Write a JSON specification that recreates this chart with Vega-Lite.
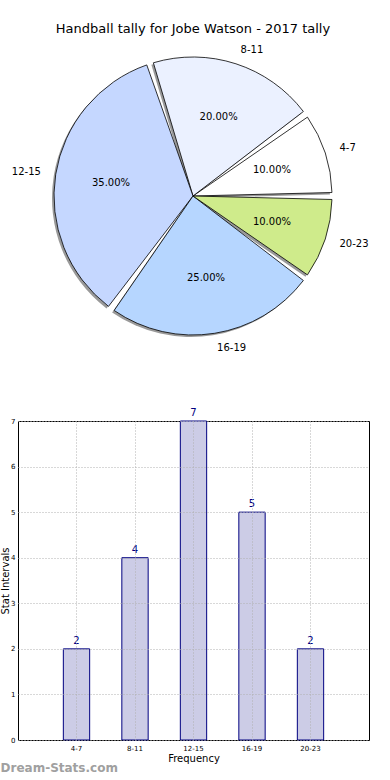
{
  "$schema": "https://vega.github.io/schema/vega-lite/v6.json",
  "padding": {"top": 23, "left": 0, "right": 0, "bottom": 0},
  "spacing": 53,
  "config": {"font": "DejaVu Sans", "view": {"stroke": null}},
  "datasets": {
    "tally": [
      {"interval": "4-7", "count": 2, "pct": "10.00%"},
      {"interval": "8-11", "count": 4, "pct": "20.00%"},
      {"interval": "12-15", "count": 7, "pct": "35.00%"},
      {"interval": "16-19", "count": 5, "pct": "25.00%"},
      {"interval": "20-23", "count": 2, "pct": "10.00%"}
    ]
  },
  "vconcat": [
    {
      "width": 350,
      "height": 312,
      "data": {"name": "tally"},
      "title": {"text": "Handball tally for Jobe Watson - 2017 tally", "fontSize": 13, "fontWeight": "normal", "offset": 4, "color": "#000"},
      "view": {"stroke": null},
      "encoding": {
        "theta": {"field": "count", "type": "quantitative", "stack": true, "scale": {"range": [-0.314159, 5.969026]}},
        "order": {"field": "interval", "type": "nominal", "sort": "descending"}
      },
      "layer": [
        {"mark": {"type": "arc", "outerRadius": 139, "padAngle": 0.05, "fill": "#808080", "opacity": 0.8, "xOffset": -2, "yOffset": 2}},
        {"mark": {"type": "arc", "outerRadius": 139, "padAngle": 0.05, "stroke": "#000", "strokeWidth": 0.8},
         "encoding": {"color": {"field": "interval", "type": "nominal", "legend": null,
           "scale": {"domain": ["4-7", "8-11", "12-15", "16-19", "20-23"], "range": ["#ffffff", "#ebf1ff", "#c5d7ff", "#b6d6ff", "#cfeb8b"]}}}},
        {"mark": {"type": "text", "radius": 83, "fontSize": 10, "color": "#000"},
         "encoding": {"text": {"field": "pct", "type": "nominal"}}},
        {"mark": {"type": "text", "radius": 154, "fontSize": 10, "align": "left", "color": "#000"},
         "encoding": {"text": {"field": "interval", "type": "nominal"},
           "opacity": {"condition": {"test": "datum.interval === '12-15'", "value": 0}, "value": 1}}},
        {"mark": {"type": "text", "radius": 154, "fontSize": 10, "align": "right", "color": "#000"},
         "encoding": {"text": {"field": "interval", "type": "nominal"},
           "opacity": {"condition": {"test": "datum.interval === '12-15'", "value": 1}, "value": 0}}}
      ]
    },
    {
      "width": 351,
      "height": 319,
      "data": {"name": "tally"},
      "view": {"stroke": "#000", "strokeWidth": 1},
      "title": {"text": "Dream-Stats.com", "orient": "bottom", "anchor": "start", "frame": "bounds", "color": "#a0a0a0", "fontSize": 12, "fontWeight": "bold", "offset": 0},
      "encoding": {
        "x": {"field": "interval", "type": "ordinal", "sort": ["4-7", "8-11", "12-15", "16-19", "20-23"],
          "scale": {"paddingInner": 0.55, "paddingOuter": 0.775},
          "axis": {"title": "Frequency", "titleFontSize": 10, "titleFontWeight": "normal", "titleColor": "#000", "titlePadding": 2,
            "labelAngle": 0, "labelFontSize": 7, "labelColor": "#000", "labelPadding": 4, "ticks": false, "domain": false,
            "grid": true, "gridColor": "#b0b0b0", "gridDash": [1, 2], "bandPosition": 0.5, "zindex": 1}},
        "y": {"field": "count", "type": "quantitative", "scale": {"domain": [0, 7]},
          "axis": {"title": "Stat Intervals", "titleFontSize": 10, "titleFontWeight": "normal", "titleColor": "#000", "titlePadding": 0,
            "values": [0, 1, 2, 3, 4, 5, 6, 7], "labelFontSize": 7, "labelColor": "#000", "labelPadding": 3, "ticks": false, "domain": false,
            "grid": true, "gridColor": "#b0b0b0", "gridDash": [1, 2], "zindex": 1}}
      },
      "layer": [
        {"mark": {"type": "bar", "fill": "#ccccE6", "stroke": "#000080", "strokeWidth": 1}},
        {"mark": {"type": "text", "dy": -8, "color": "#000080", "fontSize": 10},
         "encoding": {"text": {"field": "count", "type": "quantitative"}}}
      ]
    }
  ]
}
